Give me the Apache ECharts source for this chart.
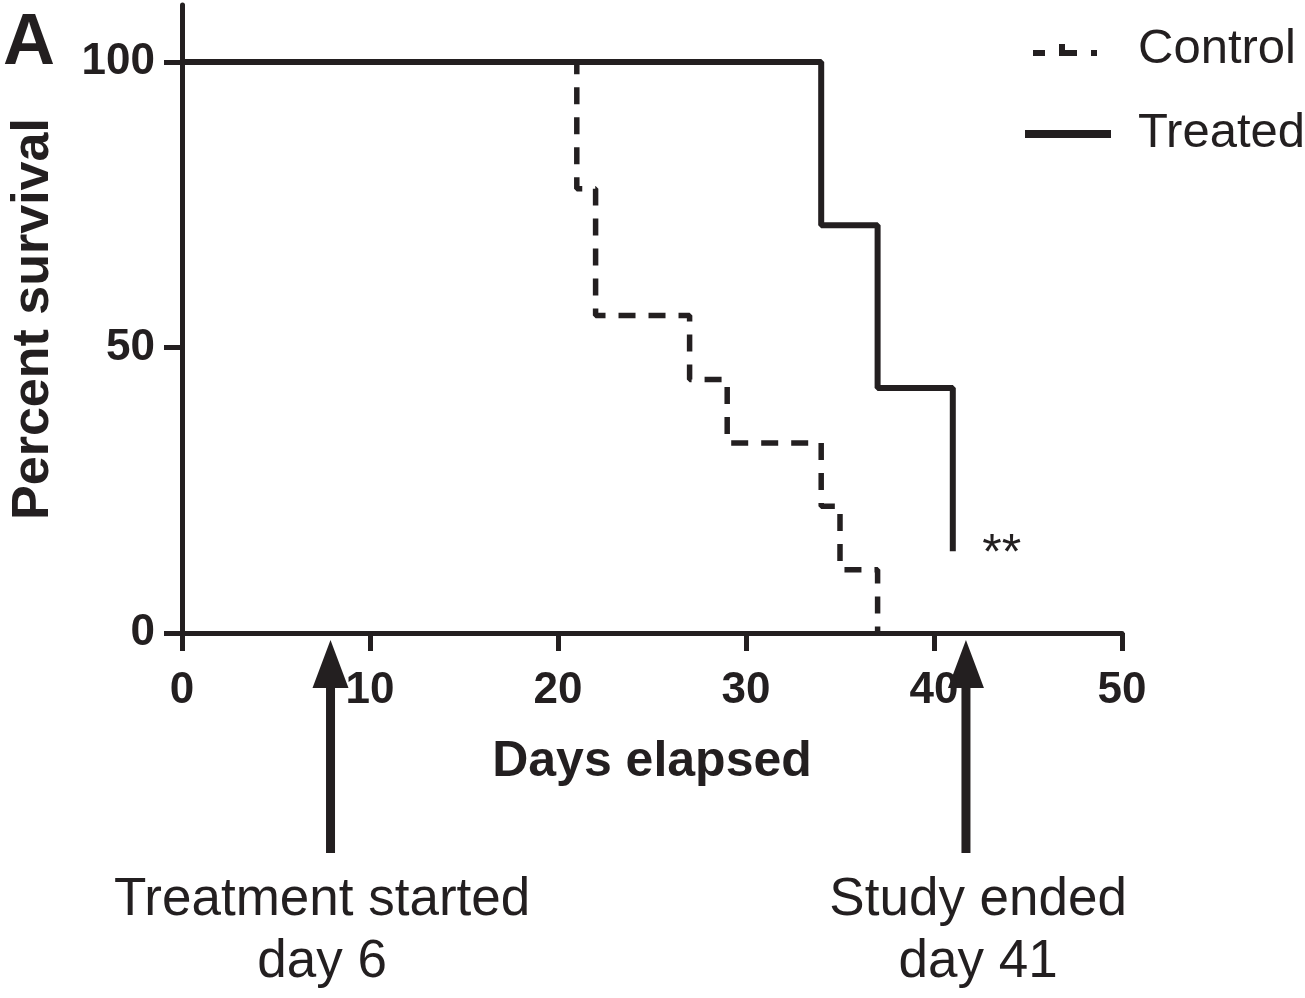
<!DOCTYPE html>
<html><head><meta charset="utf-8">
<script src="https://cdn.jsdelivr.net/npm/echarts@6/dist/echarts.min.js"></script>
<style>html,body{margin:0;padding:0;background:#fff}#c{width:1305px;height:998px}</style>
</head><body><div id="c"></div>
<script>
// Kaplan-Meier survival steps (day, percent survival)
const controlDays = [0, 21, 22, 27, 29, 34, 35, 37];
const controlSurvival = [100, 77.8, 55.6, 44.4, 33.3, 22.2, 11.1, 0];
const treatedDays = [0, 34, 37, 41];
const treatedSurvival = [100, 71.4, 42.9, 14.3];
const yTickValues = [0, 50, 100];
const seriesNames = ['Control', 'Treated'];
// annotations
const arrowDays = [7.9, 41.7];
const arrowLabelDays = [7.45, 42.35];
const arrowLabels = ['Treatment started\nday 6', 'Study ended\nday 41'];
const sigLabel = '**';
const sigDay = 43.6, sigValue = 15.4;

const INK = '#231f20';
const FONT = '"Liberation Sans", Arial, Helvetica, sans-serif';

// legend glyphs (86 x 14 box)
const controlIcon = 'path://M0,0M86,14M8,8h12v6h-12zM34,2h6v6h12v6h-18zM66,8h6v6h-6z';
const treatedIcon = 'path://M0,0M86,14M0,4h86v8h-86z';

const chart = echarts.init(document.getElementById('c'), null, {renderer: 'canvas'});
const pairs = (xs, ys) => xs.map((x, i) => [x, ys[i]]);

chart.setOption({
  animation: false,
  backgroundColor: '#fff',
  grid: {left: 177, right: 183, top: 5, bottom: 365, containLabel: false},
  legend: {
    orient: 'vertical', left: 1020, top: 18, width: 285,
    itemWidth: 86, itemHeight: 14, itemGap: 32,
    data: [
      {name: seriesNames[0], icon: controlIcon},
      {name: seriesNames[1], icon: treatedIcon}
    ],
    itemStyle: {color: INK, borderWidth: 0},
    textStyle: {fontFamily: FONT, fontSize: 49, color: INK, lineHeight: 52, padding: [0, 0, 0, 22]}
  },
  xAxis: {
    type: 'value', min: 0, max: 50, interval: 10,
    name: 'Days elapsed', nameLocation: 'middle', nameGap: 104,
    nameTextStyle: {fontFamily: FONT, fontSize: 50, fontWeight: 'bold', color: INK},
    axisLine: {show: true, onZero: false, lineStyle: {color: INK, width: 5}},
    axisTick: {show: true, inside: false, length: 18, lineStyle: {color: INK, width: 5}},
    axisLabel: {fontFamily: FONT, fontSize: 44, fontWeight: 'bold', color: INK, margin: 36},
    splitLine: {show: false}
  },
  yAxis: {
    type: 'value', min: 0, max: 110, interval: 50,
    name: 'Percent survival', nameLocation: 'middle', nameRotate: 90, nameGap: 122,
    nameTextStyle: {fontFamily: FONT, fontSize: 52, fontWeight: 'bold', color: INK},
    axisLine: {show: true, onZero: false, lineStyle: {color: INK, width: 5}},
    axisTick: {show: true, inside: false, length: 18, customValues: yTickValues, lineStyle: {color: INK, width: 5}},
    axisLabel: {fontFamily: FONT, fontSize: 44, fontWeight: 'bold', color: INK, margin: 27, customValues: yTickValues},
    splitLine: {show: false}
  },
  series: [
    {
      name: seriesNames[0], type: 'line', step: 'end', symbol: 'none', showSymbol: false,
      data: pairs(controlDays, controlSurvival),
      lineStyle: {color: INK, width: 5.5, type: [17, 13], cap: 'butt'},
      itemStyle: {color: INK}, z: 2
    },
    {
      name: seriesNames[1], type: 'line', step: 'end', symbol: 'none', showSymbol: false,
      data: pairs(treatedDays, treatedSurvival),
      lineStyle: {color: INK, width: 6, type: 'solid'},
      itemStyle: {color: INK}, z: 3
    }
  ]
});

const axisY = chart.convertToPixel({yAxisIndex: 0}, 0);
const graphics = [];
graphics.push({
  type: 'text', left: 3, top: 8,
  style: {text: 'A', fontFamily: FONT, fontSize: 72, fontWeight: 'bold', fill: INK}
});
const sx = chart.convertToPixel({xAxisIndex: 0}, sigDay);
const sy = chart.convertToPixel({yAxisIndex: 0}, sigValue);
graphics.push({
  type: 'text', x: sx, y: sy + 10,
  style: {text: sigLabel, fontFamily: FONT, fontSize: 50, fill: INK, align: 'center', verticalAlign: 'middle'}
});
arrowDays.forEach((d, i) => {
  const px = chart.convertToPixel({xAxisIndex: 0}, d);
  graphics.push({
    type: 'polygon',
    shape: {points: [[px, axisY + 7], [px - 18, axisY + 55], [px + 18, axisY + 55]]},
    style: {fill: INK}
  });
  graphics.push({
    type: 'rect',
    shape: {x: px - 4.5, y: axisY + 50, width: 9, height: 170},
    style: {fill: INK}
  });
  const lx = chart.convertToPixel({xAxisIndex: 0}, arrowLabelDays[i]);
  graphics.push({
    type: 'text', x: lx, y: axisY + 236,
    style: {text: arrowLabels[i], fontFamily: FONT, fontSize: 53, lineHeight: 62, fill: INK, align: 'center', verticalAlign: 'top'}
  });
});
chart.setOption({graphic: graphics});
</script>
</body></html>
